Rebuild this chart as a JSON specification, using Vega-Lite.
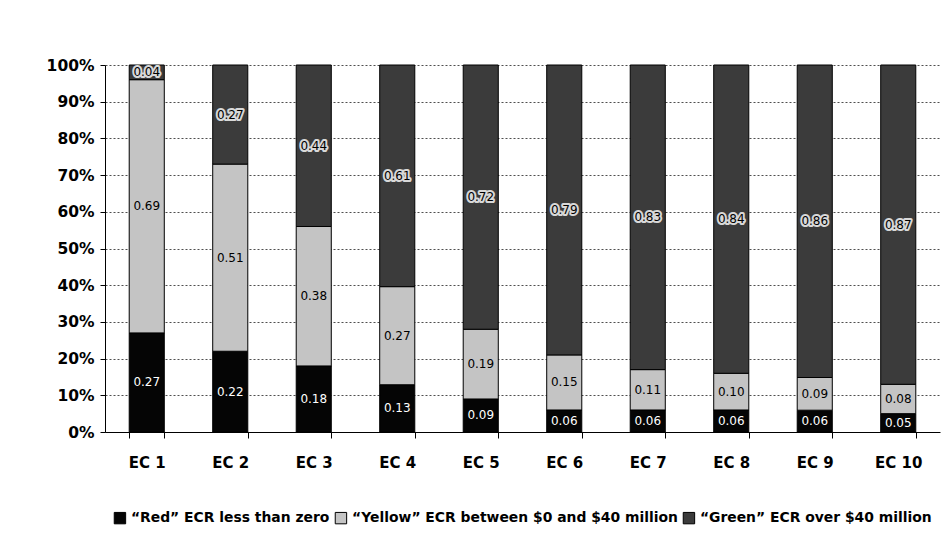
{
  "$schema": "https://vega.github.io/schema/vega-lite/v6.json",
  "width": 835,
  "height": 367,
  "autosize": {"type": "none"},
  "padding": {"left": 105, "top": 65, "right": 2, "bottom": 112},
  "background": "white",
  "config": {
    "view": {"stroke": null},
    "font": "DejaVu Sans"
  },
  "data": {
    "values": [
      {"ec": "EC 1", "tier": 1, "range": "“Red” ECR less than zero", "share": 0.27},
      {"ec": "EC 1", "tier": 2, "range": "“Yellow” ECR between $0 and $40 million", "share": 0.69},
      {"ec": "EC 1", "tier": 3, "range": "“Green” ECR over $40 million", "share": 0.04},
      {"ec": "EC 2", "tier": 1, "range": "“Red” ECR less than zero", "share": 0.22},
      {"ec": "EC 2", "tier": 2, "range": "“Yellow” ECR between $0 and $40 million", "share": 0.51},
      {"ec": "EC 2", "tier": 3, "range": "“Green” ECR over $40 million", "share": 0.27},
      {"ec": "EC 3", "tier": 1, "range": "“Red” ECR less than zero", "share": 0.18},
      {"ec": "EC 3", "tier": 2, "range": "“Yellow” ECR between $0 and $40 million", "share": 0.38},
      {"ec": "EC 3", "tier": 3, "range": "“Green” ECR over $40 million", "share": 0.44},
      {"ec": "EC 4", "tier": 1, "range": "“Red” ECR less than zero", "share": 0.13},
      {"ec": "EC 4", "tier": 2, "range": "“Yellow” ECR between $0 and $40 million", "share": 0.27},
      {"ec": "EC 4", "tier": 3, "range": "“Green” ECR over $40 million", "share": 0.61},
      {"ec": "EC 5", "tier": 1, "range": "“Red” ECR less than zero", "share": 0.09},
      {"ec": "EC 5", "tier": 2, "range": "“Yellow” ECR between $0 and $40 million", "share": 0.19},
      {"ec": "EC 5", "tier": 3, "range": "“Green” ECR over $40 million", "share": 0.72},
      {"ec": "EC 6", "tier": 1, "range": "“Red” ECR less than zero", "share": 0.06},
      {"ec": "EC 6", "tier": 2, "range": "“Yellow” ECR between $0 and $40 million", "share": 0.15},
      {"ec": "EC 6", "tier": 3, "range": "“Green” ECR over $40 million", "share": 0.79},
      {"ec": "EC 7", "tier": 1, "range": "“Red” ECR less than zero", "share": 0.06},
      {"ec": "EC 7", "tier": 2, "range": "“Yellow” ECR between $0 and $40 million", "share": 0.11},
      {"ec": "EC 7", "tier": 3, "range": "“Green” ECR over $40 million", "share": 0.83},
      {"ec": "EC 8", "tier": 1, "range": "“Red” ECR less than zero", "share": 0.06},
      {"ec": "EC 8", "tier": 2, "range": "“Yellow” ECR between $0 and $40 million", "share": 0.10},
      {"ec": "EC 8", "tier": 3, "range": "“Green” ECR over $40 million", "share": 0.84},
      {"ec": "EC 9", "tier": 1, "range": "“Red” ECR less than zero", "share": 0.06},
      {"ec": "EC 9", "tier": 2, "range": "“Yellow” ECR between $0 and $40 million", "share": 0.09},
      {"ec": "EC 9", "tier": 3, "range": "“Green” ECR over $40 million", "share": 0.86},
      {"ec": "EC 10", "tier": 1, "range": "“Red” ECR less than zero", "share": 0.05},
      {"ec": "EC 10", "tier": 2, "range": "“Yellow” ECR between $0 and $40 million", "share": 0.08},
      {"ec": "EC 10", "tier": 3, "range": "“Green” ECR over $40 million", "share": 0.87}
    ]
  },
  "encoding": {
    "x": {
      "field": "ec",
      "type": "nominal",
      "sort": null,
      "scale": {"paddingInner": 0.58, "paddingOuter": 0.29},
      "axis": {
        "title": null,
        "labelAngle": 0,
        "labelFont": "DejaVu Sans",
        "labelFontWeight": "bold",
        "labelFontSize": 15,
        "labelColor": "black",
        "labelPadding": 17,
        "tickBand": "extent",
        "tickSize": 6,
        "tickColor": "black",
        "domainColor": "black",
        "grid": false
      }
    },
    "y": {
      "field": "share",
      "type": "quantitative",
      "stack": "normalize",
      "scale": {"domain": [0, 1]},
      "axis": {
        "title": null,
        "format": ".0%",
        "values": [0, 0.1, 0.2, 0.3, 0.4, 0.5, 0.6, 0.7, 0.8, 0.9, 1],
        "labelFont": "DejaVu Sans",
        "labelFontWeight": "bold",
        "labelFontSize": 15.5,
        "labelColor": "black",
        "labelPadding": 6,
        "tickSize": 5,
        "tickColor": "black",
        "domainColor": "black",
        "grid": true,
        "gridColor": "#222222",
        "gridDash": [2, 2],
        "gridWidth": 0.8
      }
    },
    "order": {"field": "tier", "type": "quantitative"}
  },
  "layer": [
    {
      "mark": {"type": "bar", "stroke": "black", "strokeWidth": 1},
      "encoding": {
        "color": {
          "field": "range",
          "type": "nominal",
          "scale": {
            "domain": ["“Red” ECR less than zero", "“Yellow” ECR between $0 and $40 million", "“Green” ECR over $40 million"],
            "range": ["#050505", "#c4c4c4", "#3b3b3b"]
          },
          "legend": {
            "title": null,
            "orient": "none",
            "direction": "horizontal",
            "legendX": 8,
            "legendY": 446,
            "symbolType": "square",
            "symbolSize": 130,
            "symbolStrokeColor": "black",
            "symbolStrokeWidth": 1,
            "symbolOpacity": 1,
            "labelFont": "DejaVu Sans",
            "labelFontWeight": "bold",
            "labelFontSize": 13.9,
            "labelColor": "black",
            "labelOffset": 4,
            "columnPadding": 3,
            "labelLimit": 450
          }
        }
      }
    },
    {
      "mark": {"type": "text", "font": "DejaVu Sans", "fontSize": 12, "stroke": "#d8d8d8", "strokeWidth": 4, "strokeJoin": "round"},
      "encoding": {
        "y": {"field": "share", "type": "quantitative", "stack": "normalize", "bandPosition": 0.5},
        "text": {"field": "share", "type": "quantitative", "format": ".2f"},
        "strokeOpacity": {
          "condition": {"test": "datum.tier === 3", "value": 1},
          "value": 0
        },
        "opacity": {
          "condition": {"test": "datum.tier === 3", "value": 1},
          "value": 0
        }
      }
    },
    {
      "mark": {"type": "text", "font": "DejaVu Sans", "fontSize": 12},
      "encoding": {
        "y": {"field": "share", "type": "quantitative", "stack": "normalize", "bandPosition": 0.5},
        "text": {"field": "share", "type": "quantitative", "format": ".2f"},
        "color": {
          "condition": {"test": "datum.tier === 1", "value": "white"},
          "value": "black"
        }
      }
    }
  ]
}
